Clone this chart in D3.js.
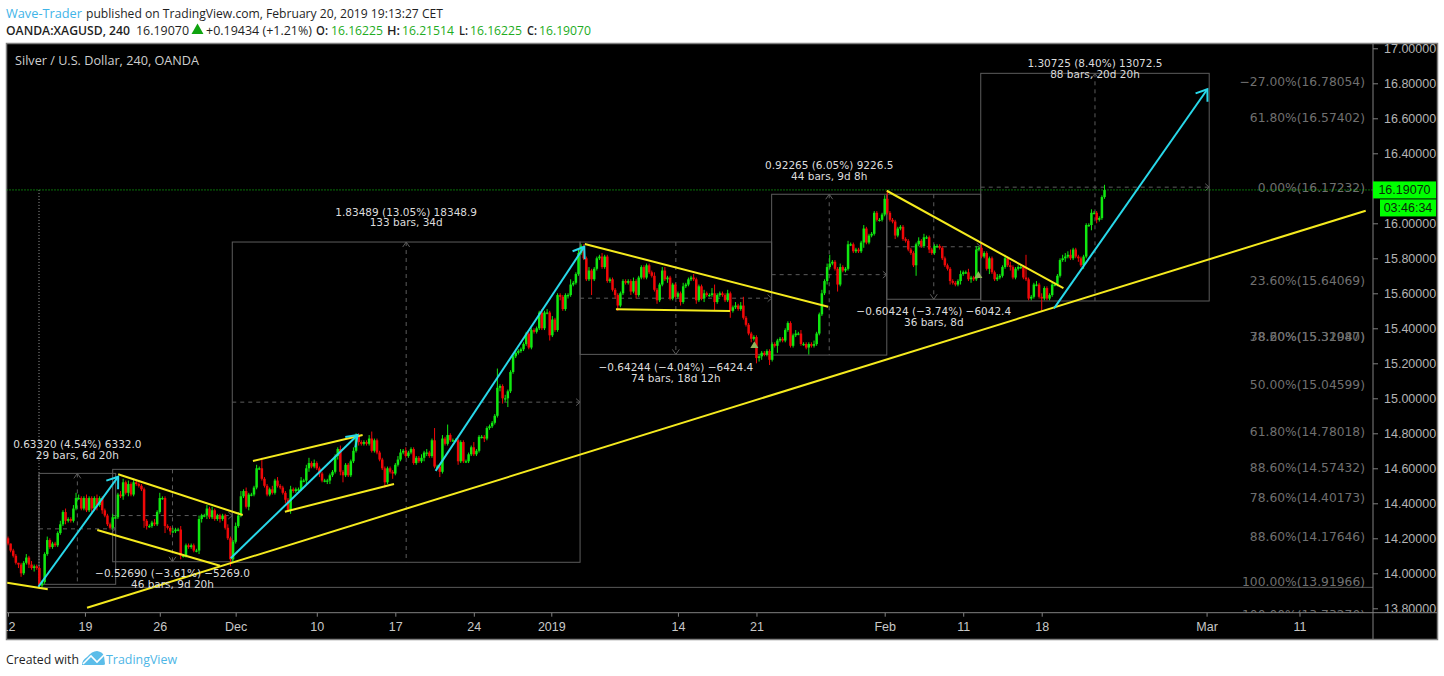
<!DOCTYPE html>
<html>
<head>
<meta charset="utf-8">
<title>XAGUSD</title>
<script src="https://cdn.jsdelivr.net/npm/d3@7"></script>
<style>
    html, body { margin: 0; padding: 0; background: #fff; overflow: hidden; }
    svg { display: block; }
    .priceAxis text, .timeAxis text { font-family: "Liberation Sans", Arial, sans-serif; font-size: 12.5px; }
</style>
</head>
<body>
<div id="chart"></div>
<script>
/** Silver 4h candles with the drawings on top. */

// 4h closes, ten bars to a row. Each bar opens at the previous close.
var firstOpen = 14.20;
var closes = [
    14.17,14.13,14.10,14.06,14.05,14.00,14.06,14.09,14.05,14.03,
    14.04,14.03,13.93,13.95,14.11,14.19,14.15,14.17,14.16,14.23,
    14.28,14.35,14.30,14.31,14.30,14.37,14.43,14.43,14.37,14.43,
    14.36,14.43,14.37,14.43,14.39,14.43,14.36,14.33,14.28,14.26,
    14.32,14.32,14.45,14.44,14.52,14.46,14.51,14.45,14.52,14.51,
    14.50,14.48,14.30,14.27,14.27,14.29,14.28,14.35,14.43,14.43,
    14.27,14.26,14.24,14.24,14.25,14.25,14.10,14.10,14.16,14.15,
    14.16,14.13,14.13,14.31,14.33,14.33,14.37,14.32,14.36,14.31,
    14.33,14.31,14.33,14.26,14.20,14.08,14.18,14.27,14.33,14.44,
    14.47,14.38,14.45,14.45,14.49,14.60,14.60,14.54,14.50,14.45,
    14.48,14.46,14.53,14.50,14.49,14.46,14.42,14.36,14.48,14.47,
    14.48,14.48,14.53,14.53,14.60,14.63,14.61,14.63,14.60,14.57,
    14.53,14.53,14.53,14.56,14.58,14.67,14.71,14.58,14.56,14.62,
    14.56,14.64,14.70,14.79,14.75,14.74,14.75,14.74,14.77,14.70,
    14.76,14.69,14.65,14.60,14.52,14.60,14.58,14.57,14.62,14.65,
    14.69,14.70,14.67,14.69,14.71,14.63,14.66,14.64,14.66,14.69,
    14.69,14.67,14.76,14.61,14.61,14.58,14.77,14.74,14.79,14.76,
    14.76,14.76,14.64,14.75,14.64,14.64,14.68,14.72,14.68,14.70,
    14.78,14.78,14.77,14.83,14.84,14.86,14.90,15.06,15.07,15.00,
    15.00,15.04,15.15,15.24,15.26,15.27,15.28,15.31,15.37,15.29,
    15.39,15.38,15.40,15.49,15.40,15.49,15.49,15.36,15.45,15.39,
    15.59,15.58,15.51,15.59,15.59,15.65,15.66,15.71,15.83,15.87,
    15.80,15.68,15.73,15.68,15.74,15.80,15.81,15.75,15.81,15.67,
    15.68,15.62,15.59,15.53,15.60,15.67,15.66,15.67,15.61,15.67,
    15.59,15.69,15.75,15.69,15.76,15.72,15.70,15.62,15.56,15.65,
    15.73,15.68,15.69,15.57,15.65,15.58,15.60,15.55,15.64,15.65,
    15.68,15.69,15.68,15.56,15.64,15.57,15.60,15.59,15.59,15.60,
    15.55,15.59,15.60,15.59,15.56,15.60,15.50,15.52,15.53,15.51,
    15.53,15.46,15.42,15.37,15.34,15.35,15.23,15.24,15.26,15.25,
    15.27,15.22,15.31,15.30,15.33,15.34,15.33,15.39,15.43,15.30,
    15.36,15.37,15.37,15.31,15.31,15.29,15.31,15.30,15.31,15.37,
    15.48,15.60,15.67,15.75,15.77,15.78,15.74,15.65,15.75,15.73,
    15.74,15.88,15.88,15.84,15.85,15.84,15.89,15.97,15.89,15.93,
    15.94,16.06,16.02,16.02,16.05,16.14,16.06,16.02,16.01,15.93,
    15.97,15.98,15.91,15.90,15.85,15.83,15.76,15.88,15.90,15.87,
    15.92,15.92,15.85,15.83,15.87,15.87,15.86,15.80,15.76,15.74,
    15.67,15.66,15.65,15.67,15.71,15.72,15.72,15.68,15.69,15.68,
    15.85,15.86,15.81,15.83,15.74,15.80,15.72,15.68,15.69,15.70,
    15.75,15.80,15.76,15.75,15.69,15.74,15.75,15.75,15.69,15.68,
    15.57,15.58,15.65,15.65,15.58,15.57,15.63,15.57,15.59,15.65,
    15.65,15.70,15.79,15.80,15.81,15.82,15.80,15.85,15.81,15.80,
    15.76,15.81,15.99,15.99,16.06,16.06,16.02,16.03,16.15,16.19
];

// wicks above and below the body, in cents
var wickUp = [
    1,0,1,1,0,1,1,2,1,2, 1,1,1,1,1,2,1,1,1,1, 2,1,2,1,1,2,3,2,1,1, 2,1,1,1,2,1,1,1,1,1,
    2,1,1,2,2,1,2,1,2,1, 1,1,1,1,1,1,2,1,3,1, 1,1,1,2,1,1,2,1,1,1, 1,1,1,2,1,1,2,1,2,1,
    1,1,1,1,2,1,1,2,2,3, 1,2,1,1,1,2,1,6,1,1, 1,2,1,2,1,1,1,1,2,1, 1,1,2,1,2,3,1,2,1,1,
    1,1,1,1,1,1,1,2,1,1, 1,1,2,1,1,1,1,1,2,4, 1,1,1,1,1,1,1,1,1,2, 2,1,2,1,1,1,1,1,2,1,
    2,1,1,7,1,1,2,1,6,1, 1,1,1,1,1,1,1,1,3,1, 1,1,1,1,1,1,1,11,1,1, 2,1,1,1,1,1,1,1,1,1,
    1,1,1,1,2,1,2,1,2,1, 1,1,1,1,1,3,1,1,2,1, 1,1,2,1,1,1,1,2,1,1, 1,1,1,1,1,1,1,1,1,2,
    1,1,1,1,1,1,1,2,1,1, 2,2,1,1,1,1,1,1,2,1, 1,1,2,1,1,1,2,1,1,3, 5,1,1,1,1,2,1,1,2,1,
    2,5,1,1,1,1,1,1,1,1, 1,1,1,1,1,1,1,1,1,1, 1,2,1,2,1,1,1,1,2,1, 1,2,1,2,5,1,1,1,2,1,
    1,2,1,1,1,1,1,2,1,1, 1,1,1,1,1,2,5,1,1,1, 1,1,1,1,1,1,1,1,2,1, 2,1,1,1,1,1,1,1,1,1,
    1,1,1,1,2,1,1,2,1,1, 2,1,2,1,1,1,1,1,2,1, 1,2,1,2,1,1,1,1,1,13, 1,1,1,2,1,2,1,1,1,1,
    1,1,1,2,2,2,3,1,1,1, 1,1,1,1,2,1,1,1,1,3
];
var wickDown = [
    1,1,1,1,2,2,1,1,2,1, 2,1,2,1,1,1,1,1,1,1, 1,1,2,1,1,1,1,1,1,1, 1,1,2,1,3,1,2,1,1,1,
    1,1,1,1,2,1,2,1,1,1, 1,1,4,2,1,1,1,1,1,1, 4,1,2,1,1,1,2,1,1,1, 1,1,1,2,2,1,2,1,1,1,
    1,2,1,1,1,4,2,1,1,1, 1,1,2,1,1,1,1,1,1,1, 1,1,1,1,1,1,2,1,2,1, 1,1,1,1,2,2,1,1,1,2,
    1,1,2,2,1,1,2,2,4,1, 1,1,1,1,2,1,1,1,1,1, 1,1,1,1,3,1,1,3,1,1, 1,1,1,1,1,1,1,1,1,2,
    2,1,1,1,1,3,1,1,1,1, 1,1,2,1,1,1,1,1,1,1, 1,1,2,1,1,1,1,1,2,3, 2,5,1,1,1,1,1,1,1,1,
    1,1,1,1,1,1,1,3,1,1, 1,2,1,1,2,1,1,1,1,1, 1,1,1,9,1,1,1,1,1,1, 1,1,2,3,1,1,1,1,2,1,
    2,1,1,1,1,1,1,1,2,1, 1,1,2,1,1,1,1,2,1,1, 1,1,1,2,1,1,2,1,1,1, 5,1,1,1,1,1,4,1,1,1,
    1,1,1,1,2,1,3,2,2,1, 1,3,1,1,4,1,1,1,1,1, 1,1,1,1,1,1,4,1,1,1, 1,1,1,2,1,1,1,4,1,1,
    1,1,1,1,1,1,1,3,1,1, 1,1,1,1,1,1,1,1,1,2, 1,1,1,1,1,1,1,6,1,1, 1,1,2,1,1,1,1,1,1,1,
    2,1,1,1,2,1,1,1,2,1, 1,1,1,1,1,3,1,1,1,1, 1,1,1,2,1,1,1,1,1,1, 1,1,1,1,1,7,1,1,1,1,
    1,1,1,1,2,1,1,1,1,2, 1,2,1,1,3,1,2,1,1,1
];

// 16.2 is hidden behind the last price tag in the picture
var priceTicks = [13.8,14,14.2,14.4,14.6,14.8,15,15.2,15.4,15.6,15.8,16,16.4,16.6,16.8,17];
var timeLabels = ["12","19","26","Dec","10","17","24","2019","14","21","Feb","11","18","Mar","11"];
var timeBars = [0,29.4,58,87,118,148,178,207.6,256,286,335,365,395,458,493.5];

var fibLevels = [-27,61.8,0,23.6,78.6,38.2,50,61.8,88.6,78.6,88.6,100,100];
var fibPrices = [16.78054,16.57402,16.17232,15.64069,15.32047,15.31980,15.04599,14.78018,14.57432,14.40173,14.17646,13.91966,13.73270];

// yellow trend lines: bar, price, bar, price
var trendLines = [
    [-0.3,13.946,15.2,13.909],
    [30.2,13.803,518.8,16.072],
    [42.1,14.566,89.7,14.333],
    [34.1,14.247,81.0,14.043],
    [93.6,14.642,135.5,14.790],
    [105.8,14.352,147.5,14.510],
    [220.4,15.882,313.4,15.523],
    [232.3,15.509,275.9,15.499],
    [335.8,16.186,403.3,15.629]
];
var arrowLines = [
    [11.6,13.923,42.1,14.552],
    [85.1,14.086,133.6,14.790],
    [163.4,14.585,220.2,15.866],
    [399.7,15.514,458.3,16.766]
];

// measure boxes: left bar, right bar, top price, bottom price
var measureBoxes = [
    [11.85,41.15,14.571,13.937],
    [40.0,85.7,14.594,14.066],
    [85.7,218.6,15.893,14.063],
    [218.6,291.8,15.893,15.251],
    [291.8,335.8,16.166,15.247],
    [335.8,371.7,16.166,15.566],
    [371.7,459.0,16.857,15.556]
];
var measureUp = [true,false,true,false,true,false,true];
var measureText = [
    "0.63320 (4.54%) 6332.0",
    "\u22120.52690 (\u22123.61%) \u22125269.0",
    "1.83489 (13.05%) 18348.9",
    "\u22120.64244 (\u22124.04%) \u22126424.4",
    "0.92265 (6.05%) 9226.5",
    "\u22120.60424 (\u22123.74%) \u22126042.4",
    "1.30725 (8.40%) 13072.5"
];
var measureBars = ["29 bars, 6d 20h","46 bars, 9d 20h","133 bars, 34d","74 bars, 18d 12h","44 bars, 9d 8h","36 bars, 8d","88 bars, 20d 20h"];

var markerBars = [285.2,370.8];
var markerPrices = [15.30,15.70];

var lastPrice = 16.19070;
var lastPriceText = "16.19070";
var countdownText = "03:46:34";
var fibStartBar = 11.85;

var width = 1444, height = 676;
var frame = {left: 6.5, top: 43.5, right: 1437.5, bottom: 639.5};
var axisX = 1373, axisY = 612.7;
var labelGap = [-29,12,-30,13,-29,12,-10];

var svg = d3.select("#chart").append("svg").attr("width", width).attr("height", height);

var xScale = d3.scaleLinear().domain([0, 500]).range([8, 1316.5]);
var yScale = d3.scaleLinear().domain([13.8, 17]).range([608.3, 48.3]);

var defs = svg.append("defs");
defs.append("clipPath").attr("id", "plotClip").append("rect")
    .attr("x", frame.left).attr("y", frame.top)
    .attr("width", axisX - frame.left).attr("height", axisY - frame.top);
defs.append("clipPath").attr("id", "timeClip").append("rect")
    .attr("x", frame.left).attr("y", axisY)
    .attr("width", axisX - frame.left).attr("height", frame.bottom - axisY);
defs.append("clipPath").attr("id", "priceClip").append("rect")
    .attr("x", axisX).attr("y", frame.top)
    .attr("width", frame.right - axisX).attr("height", axisY - frame.top);

svg.append("rect")
    .attr("x", frame.left).attr("y", frame.top)
    .attr("width", frame.right - frame.left).attr("height", frame.bottom - frame.top)
    .attr("fill", "#000").attr("stroke", "#808080").attr("stroke-width", 1.5);

var plot = svg.append("g").attr("clip-path", "url(#plotClip)");

// Measure boxes with their dashed centre lines
var boxColor = "#5c5c5c";
measureBoxes.forEach(function(b, i) {
    var x0 = xScale(b[0]), x1 = xScale(b[1]), y0 = yScale(b[2]), y1 = yScale(b[3]);
    var mx = (x0 + x1) / 2, my = (y0 + y1) / 2;
    plot.append("rect")
        .attr("x", x0).attr("y", y0)
        .attr("width", x1 - x0).attr("height", y1 - y0)
        .attr("fill", "none").attr("stroke", boxColor).attr("stroke-width", 1);
    plot.append("line")
        .attr("x1", mx).attr("x2", mx).attr("y1", y0).attr("y2", y1)
        .attr("stroke", boxColor).attr("stroke-dasharray", "4,4");
    plot.append("line")
        .attr("x1", x0).attr("x2", x1).attr("y1", my).attr("y2", my)
        .attr("stroke", boxColor).attr("stroke-dasharray", "4,4");
    // arrow chevrons at the end of the dashed lines
    var ty = measureUp[i] ? y0 : y1, dy = measureUp[i] ? 5 : -5;
    plot.append("path")
        .attr("d", "M" + (mx - 3.5) + "," + (ty + dy) + "L" + mx + "," + ty + "L" + (mx + 3.5) + "," + (ty + dy))
        .attr("fill", "none").attr("stroke", boxColor);
    plot.append("path")
        .attr("d", "M" + (x1 - 4) + "," + (my - 3.5) + "L" + x1 + "," + my + "L" + (x1 - 4) + "," + (my + 3.5))
        .attr("fill", "none").attr("stroke", boxColor);
});

// 100% fib line and the long dotted guide
plot.append("line")
    .attr("x1", xScale(fibStartBar)).attr("x2", axisX)
    .attr("y1", yScale(fibPrices[11])).attr("y2", yScale(fibPrices[11]))
    .attr("stroke", "#5a5a5a");
plot.append("line")
    .attr("x1", xScale(fibStartBar)).attr("x2", xScale(fibStartBar))
    .attr("y1", yScale(lastPrice)).attr("y2", yScale(fibPrices[11]))
    .attr("stroke", "#9a9a9a").attr("stroke-dasharray", "1,2");

// Fib labels sit just above their level
plot.selectAll(".fibLabel")
    .data(fibLevels).enter()
    .append("text")
        .attr("class", "fibLabel")
        .attr("x", 1365)
        .attr("y", function(d, i) {return yScale(fibPrices[i]) - 1;})
        .attr("text-anchor", "end")
        .attr("fill", "#707070")
        .attr("font-family", "'DejaVu Sans', sans-serif")
        .attr("font-size", "12.3px")
        .text(function(d, i) {
            return d3.format(".2f")(d).replace("-", "\u2212") + "%(" + d3.format(".5f")(fibPrices[i]) + ")";
        });

plot.append("line")
    .attr("x1", frame.left).attr("x2", axisX)
    .attr("y1", yScale(lastPrice)).attr("y2", yScale(lastPrice))
    .attr("stroke", "#12dc12").attr("stroke-dasharray", "1,2");

// Candles
var opens = closes.map(function(c, i) {return i ? closes[i - 1] : firstOpen;});
var candles = plot.append("g");
var candleColor = function(i) {return closes[i] >= opens[i] ? "#10e810" : "#f00808";};

candles.selectAll(".wick")
    .data(closes).enter()
    .append("line")
        .attr("class", "wick")
        .attr("x1", function(d, i) {return xScale(i);})
        .attr("x2", function(d, i) {return xScale(i);})
        .attr("y1", function(d, i) {return yScale(Math.max(d, opens[i]) + wickUp[i] / 100);})
        .attr("y2", function(d, i) {return yScale(Math.min(d, opens[i]) - wickDown[i] / 100);})
        .attr("stroke", function(d, i) {return candleColor(i);})
        .attr("stroke-width", 1);

candles.selectAll(".body")
    .data(closes).enter()
    .append("rect")
        .attr("class", "body")
        .attr("x", function(d, i) {return xScale(i) - 1.25;})
        .attr("width", 2.5)
        .attr("y", function(d, i) {return yScale(Math.max(d, opens[i]));})
        .attr("height", function(d, i) {return Math.max(1.2, Math.abs(yScale(d) - yScale(opens[i])));})
        .attr("fill", function(d, i) {return candleColor(i);});

plot.selectAll(".marker")
    .data(markerBars).enter()
    .append("path")
        .attr("class", "marker")
        .attr("d", d3.symbol().type(d3.symbolTriangle).size(28))
        .attr("transform", function(d, i) {return "translate(" + xScale(d) + "," + yScale(markerPrices[i]) + ")";})
        .attr("fill", "#8fb35a");

// Yellow trend lines
plot.selectAll(".trend")
    .data(trendLines).enter()
    .append("line")
        .attr("class", "trend")
        .attr("x1", function(d) {return xScale(d[0]);})
        .attr("y1", function(d) {return yScale(d[1]);})
        .attr("x2", function(d) {return xScale(d[2]);})
        .attr("y2", function(d) {return yScale(d[3]);})
        .attr("stroke", "#f5ea1e").attr("stroke-width", 2);

// Cyan arrows, the head is two short strokes back from the tip
arrowLines.forEach(function(a) {
    var x0 = xScale(a[0]), y0 = yScale(a[1]), x1 = xScale(a[2]), y1 = yScale(a[3]);
    var ang = Math.atan2(y1 - y0, x1 - x0), len = 12.5, spread = 0.62;
    var head = "M" + (x1 - len * Math.cos(ang - spread)) + "," + (y1 - len * Math.sin(ang - spread))
        + "L" + x1 + "," + y1
        + "L" + (x1 - len * Math.cos(ang + spread)) + "," + (y1 - len * Math.sin(ang + spread));
    plot.append("line")
        .attr("x1", x0).attr("y1", y0).attr("x2", x1).attr("y2", y1)
        .attr("stroke", "#28d8ea").attr("stroke-width", 2);
    plot.append("path")
        .attr("d", head).attr("fill", "none")
        .attr("stroke", "#28d8ea").attr("stroke-width", 2);
});

// Measure captions
measureBoxes.forEach(function(b, i) {
    var mx = (xScale(b[0]) + xScale(b[1])) / 2;
    var base = (measureUp[i] ? yScale(b[2]) : yScale(b[3])) + labelGap[i];
    [measureText[i], measureBars[i]].forEach(function(t, j) {
        svg.append("text")
            .attr("x", mx).attr("y", base + j * 10.7)
            .attr("dy", "0.35em")
            .attr("text-anchor", "middle")
            .attr("fill", "#dcdcdc")
            .attr("font-family", "'DejaVu Sans', sans-serif")
            .attr("font-size", "10.5px")
            .text(t);
    });
});

svg.append("text")
    .attr("x", 15).attr("y", 64.5)
    .attr("fill", "#cfcfcf")
    .attr("font-family", "'Open Sans', sans-serif")
    .attr("font-size", "12px")
    .attr("textLength", 184).attr("lengthAdjust", "spacingAndGlyphs")
    .text("Silver / U.S. Dollar, 240, OANDA");

// Axes. The clip sits on a wrapper so the axis translate does not shift it.
var priceAxis = svg.append("g")
    .attr("clip-path", "url(#priceClip)")
    .append("g")
    .attr("class", "priceAxis")
    .attr("transform", "translate(" + axisX + ",0)")
    .call(d3.axisRight(yScale).tickValues(priceTicks).tickFormat(d3.format(".5f")).tickSize(5).tickPadding(6));
priceAxis.select(".domain").remove();
priceAxis.selectAll("line").attr("stroke", "#808080");
priceAxis.selectAll("text").attr("fill", "#b4b4b4");

var timeAxis = svg.append("g")
    .attr("clip-path", "url(#timeClip)")
    .append("g")
    .attr("class", "timeAxis")
    .attr("transform", "translate(0," + axisY + ")")
    .call(d3.axisBottom(xScale).tickValues(timeBars)
        .tickFormat(function(d, i) {return timeLabels[i];})
        .tickSize(4).tickPadding(5));
timeAxis.select(".domain").remove();
timeAxis.selectAll("line").attr("stroke", "#808080");
timeAxis.selectAll("text").attr("fill", "#c8c8c8");

svg.append("line").attr("x1", frame.left).attr("x2", frame.right)
    .attr("y1", axisY).attr("y2", axisY).attr("stroke", "#808080");
svg.append("line").attr("x1", axisX).attr("x2", axisX)
    .attr("y1", frame.top).attr("y2", frame.bottom).attr("stroke", "#808080");

// Last price and countdown tags
var tagColor = "#00ff00";
svg.append("rect").attr("x", axisX).attr("y", yScale(lastPrice) - 8.5)
    .attr("width", 63).attr("height", 17).attr("fill", tagColor);
svg.append("rect").attr("x", 1380).attr("y", yScale(lastPrice) + 9.5)
    .attr("width", 56).attr("height", 17).attr("fill", tagColor);
svg.append("text").attr("x", 1404.5).attr("y", yScale(lastPrice) + 4.5)
    .attr("text-anchor", "middle").attr("fill", "#0a2a0a")
    .attr("font-family", "'Liberation Sans', Arial, sans-serif").attr("font-size", "12.5px")
    .text(lastPriceText);
svg.append("text").attr("x", 1408).attr("y", yScale(lastPrice) + 22.5)
    .attr("text-anchor", "middle").attr("fill", "#0a2a0a")
    .attr("font-family", "'Liberation Sans', Arial, sans-serif").attr("font-size", "12.5px")
    .text(countdownText);

// Header lines, each run pinned to where it starts and ends in the picture
var headerFont = "'Open Sans', sans-serif";
function headerRun(t, x0, x1, y, color, bold) {
    svg.append("text")
        .attr("x", x0).attr("y", y)
        .attr("fill", color)
        .attr("font-family", headerFont)
        .attr("font-size", "12.5px")
        .attr("font-weight", bold ? 600 : 400)
        .attr("textLength", x1 - x0).attr("lengthAdjust", "spacingAndGlyphs")
        .text(t);
}
var textDark = "#1f1f1f", blue = "#3fb4e8", green = "#22ac22";
headerRun("Wave-Trader", 6, 82, 18, blue);
headerRun("published on TradingView.com, February 20, 2019 19:13:27 CET", 86, 443, 18, textDark);
headerRun("OANDA:XAGUSD, 240", 6, 130, 35, textDark, true);
headerRun("16.19070", 136, 189, 35, textDark);
headerRun("+0.19434 (+1.21%)", 206, 312, 35, textDark);
headerRun("O:", 316, 328, 35, textDark, true);
headerRun("16.16225", 331, 383, 35, green);
headerRun("H:", 387, 400, 35, textDark, true);
headerRun("16.21514", 402, 454, 35, green);
headerRun("L:", 459, 468, 35, textDark, true);
headerRun("16.16225", 470, 522, 35, green);
headerRun("C:", 527, 537, 35, textDark, true);
headerRun("16.19070", 539, 591, 35, green);

svg.append("path")
    .attr("d", d3.symbol().type(d3.symbolTriangle).size(62))
    .attr("transform", "translate(197.5,30.5)")
    .attr("fill", "#0fa30f");

// Footer with the cloud logo
headerRun("Created with", 6, 79, 664, textDark);
svg.append("path")
    .attr("d", "M82,665 Q82,660 87,657 Q92,651 97,651 Q103,652 104,656 L105,664 Q105,665 103,665 Z")
    .attr("fill", "#5cbde9");
svg.append("path")
    .attr("d", "M83,664 L91,656 L97,662 L105,654")
    .attr("fill", "none").attr("stroke", "#fff").attr("stroke-width", 1.6);
headerRun("TradingView", 106, 177, 664, "#4db6e6");
</script>
</body>
</html>
